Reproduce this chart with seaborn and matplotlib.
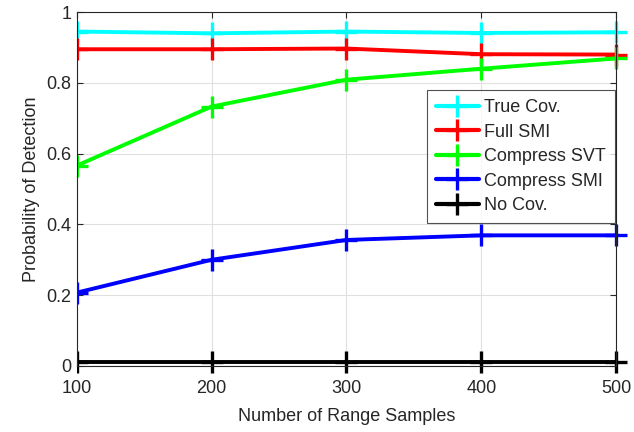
import numpy as np
import pandas as pd
import matplotlib
matplotlib.use("Agg")
import matplotlib.pyplot as plt
from matplotlib.patches import Rectangle
import seaborn as sns

samples = [100, 200, 300, 400, 500]
true_cov = [0.945, 0.940, 0.945, 0.941, 0.943]
full_smi = [0.895, 0.895, 0.897, 0.881, 0.880]
compress_svt = [0.566, 0.733, 0.809, 0.840, 0.869]
compress_smi = [0.207, 0.300, 0.356, 0.369, 0.369]
no_cov = [0.011, 0.011, 0.011, 0.011, 0.011]
series_names = ["True Cov.", "Full SMI", "Compress SVT", "Compress SMI", "No Cov."]
colors = ["#00ffff", "#ff0000", "#00ff00", "#0000ff", "#000000"]

sns.set_style("whitegrid")
plt.rcParams['font.family'] = ['Liberation Sans', 'DejaVu Sans']

rows = []
for name, vals in zip(series_names, [true_cov, full_smi, compress_svt, compress_smi, no_cov]):
    for x, v in zip(samples, vals):
        rows.append({"Samples": x, "Pd": v, "Series": name})
df = pd.DataFrame(rows)

fig = plt.figure(figsize=(6.34, 4.32), dpi=100)
ax = fig.add_axes([0.121, 0.153, 0.851, 0.819])
sns.lineplot(data=df, x="Samples", y="Pd", hue="Series", hue_order=series_names,
             palette=colors, marker="+", markersize=16, markeredgewidth=2.4,
             linewidth=2.8, ax=ax, legend=True)
clip_rect = Rectangle((0, -0.1), 1.03, 1.2, transform=ax.transAxes, visible=False)
ax.add_patch(clip_rect)
for ln in ax.lines:
    ln.set_markeredgecolor(ln.get_color())
    ln.set_clip_path(clip_rect)

ax.set_xlim(100, 500)
ax.set_ylim(0, 1)
ax.set_xticks(samples)
ax.set_yticks([0, 0.2, 0.4, 0.6, 0.8, 1])
ax.set_yticklabels(["0", "0.2", "0.4", "0.6", "0.8", "1"])
ax.grid(True, color="#e0e0e0", linewidth=0.8)
for s in ax.spines.values():
    s.set_visible(True)
    s.set_color("#262626")
    s.set_linewidth(0.8)
ax.tick_params(direction="in", length=4, labelsize=13, colors="#262626",
               top=True, right=True, bottom=True, left=True)
ax.tick_params(axis="x", pad=10)
ax.tick_params(axis="y", pad=4)
ax.set_xlabel("Number of Range Samples", fontsize=13, color="#262626", labelpad=8)
ax.set_ylabel("Probability of Detection", fontsize=13, color="#262626", labelpad=4)

leg = ax.legend(loc="upper right", bbox_to_anchor=(0.998, 0.78), fontsize=13,
                frameon=True, fancybox=False, edgecolor="#262626",
                handlelength=2.4, borderpad=0.5, labelspacing=0.42,
                handletextpad=0.3, borderaxespad=0)
leg.get_frame().set_linewidth(0.8)
for h in leg.legend_handles:
    h.set_linewidth(3)
    h.set_markersize(16)
    h.set_markeredgecolor(h.get_color())

fig.savefig("out.png", dpi=100)
